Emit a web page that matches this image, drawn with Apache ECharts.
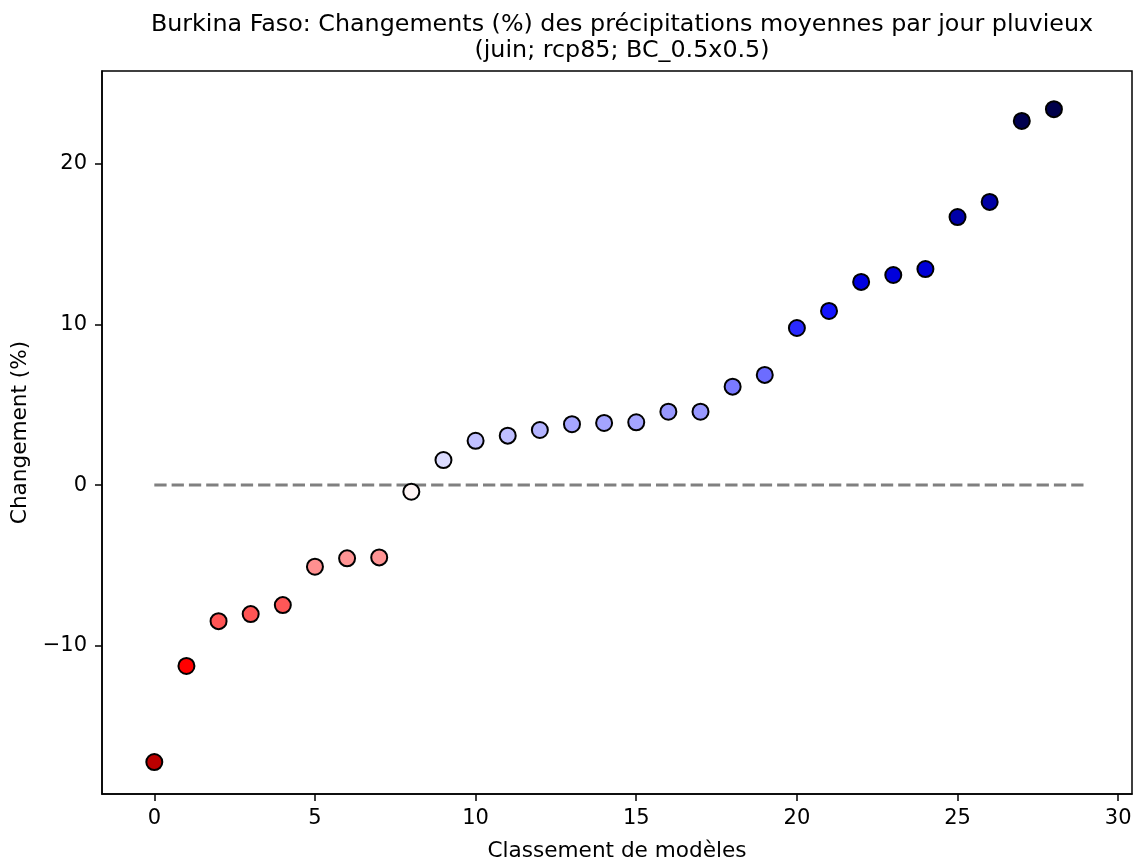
<!DOCTYPE html>
<html>
<head>
<meta charset="utf-8">
<script src="https://cdn.jsdelivr.net/npm/echarts@6/dist/echarts.min.js"></script>
<style>
html,body{margin:0;padding:0;background:#fff;}
#chart{width:1135px;height:859px;}
</style>
</head>
<body>
<div id="chart"></div>
<script>
// Data
var ranks = [0,1,2,3,4,5,6,7,8,9,10,11,12,13,14,15,16,17,18,19,20,21,22,23,24,25,26,27,28];
var changes = [-17.24,-11.26,-8.47,-8.03,-7.47,-5.08,-4.56,-4.50,-0.41,1.56,2.76,3.08,3.43,3.79,3.87,3.91,4.57,4.57,6.13,6.86,9.78,10.84,12.65,13.08,13.45,16.69,17.63,22.67,23.40];
var pointColors = ['#bb0000','#ff0000','#ff5555','#ff5555','#ff5757','#ff9090','#ff9494','#ff9494','#fff5f5','#dcdcff','#c0c0ff','#bebeff','#b4b4ff','#a6a6ff','#a4a4ff','#a4a4ff','#9898ff','#9898ff','#7a7aff','#6c6cff','#2a2aff','#1515ff','#0000e0','#0000dc','#0000d8','#0000a8','#0000a4','#00004f','#00004a'];
var zeroLineX = [0, 29];
var zeroLineY = [0, 0];
var xTicks = [0,5,10,15,20,25,30];
var yTicks = [-10,0,10,20];
var titleText = 'Burkina Faso: Changements (%) des précipitations moyennes par jour pluvieux\n(juin; rcp85; BC_0.5x0.5)';
var xLabel = 'Classement de modèles';
var yLabel = 'Changement (%)';

var font = 'DejaVu Sans';
var scatterData = ranks.map(function(r, i){
  return {value:[r, changes[i]], itemStyle:{color:pointColors[i]}};
});
var lineData = zeroLineX.map(function(x, i){ return [x, zeroLineY[i]]; });

var chart = echarts.init(document.getElementById('chart'), null, {renderer:'canvas'});
chart.setOption({
  animation:false,
  backgroundColor:'#ffffff',
  title:{
    text:titleText,
    left:617, textAlign:'center', top:7,
    textStyle:{fontFamily:font, fontSize:23.8, fontWeight:'normal', color:'#000', lineHeight:26}
  },
  grid:{left:102, right:3, top:71, bottom:65, show:true, borderColor:'#000', borderWidth:1.5, backgroundColor:'transparent', outerBoundsMode:'none', containLabel:false},
  xAxis:{
    type:'value', min:-1.628, max:30.43,
    name:xLabel, nameLocation:'middle', nameGap:46,
    nameTextStyle:{fontFamily:font, fontSize:21.6, color:'#000'},
    axisLine:{show:true, onZero:false, lineStyle:{color:'#000', width:1.5}},
    axisTick:{show:true, inside:false, length:7, lineStyle:{color:'#000', width:1.5}, customValues:xTicks},
    axisLabel:{fontFamily:font, fontSize:21, color:'#000', margin:14, customValues:xTicks},
    splitLine:{show:false}
  },
  yAxis:{
    type:'value', min:-19.23, max:25.78,
    name:yLabel, nameLocation:'middle', nameGap:69, nameRotate:90,
    nameTextStyle:{fontFamily:font, fontSize:21.6, color:'#000'},
    axisLine:{show:true, onZero:false, lineStyle:{color:'#000', width:1.5}},
    axisTick:{show:true, inside:false, length:7, lineStyle:{color:'#000', width:1.5}, customValues:yTicks},
    axisLabel:{fontFamily:font, fontSize:21, color:'#000', margin:15, customValues:yTicks,
      formatter:function(v){ return v < 0 ? '\u2212' + Math.abs(v) : String(v); }},
    splitLine:{show:false}
  },
  series:[
    {
      type:'line', data:lineData, symbol:'none', silent:true,
      lineStyle:{color:'#808080', width:3, type:[12.3,5]}, z:1
    },
    {
      type:'scatter', data:scatterData, symbol:'circle', symbolSize:16,
      itemStyle:{borderColor:'#000', borderWidth:2, opacity:1}, z:2
    }
  ]
});
</script>
</body>
</html>
